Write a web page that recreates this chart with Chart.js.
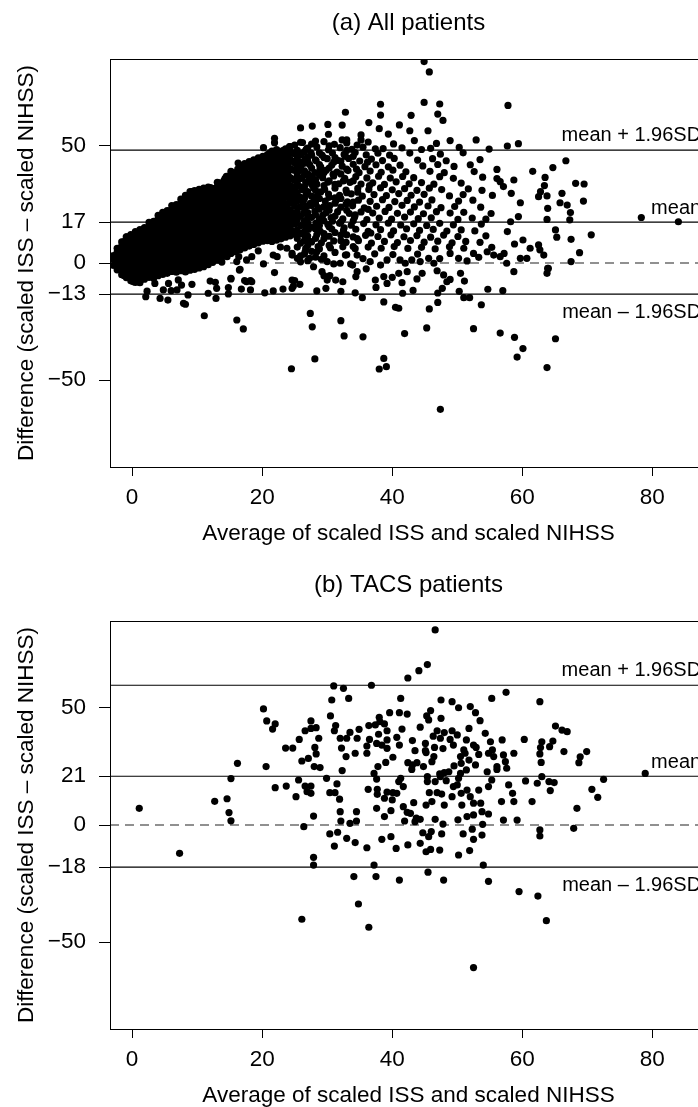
<!DOCTYPE html>
<html>
<head>
<meta charset="utf-8">
<script src="https://cdn.jsdelivr.net/npm/chart.js@4/dist/chart.umd.min.js"></script>
<style>
  html, body { margin: 0; padding: 0; background: #fff; }
  body { width: 698px; height: 1107px; overflow: hidden; position: relative; }
  canvas { position: absolute; left: 0; }
  #chartAll { top: 0; }
  #chartTacs { top: 562px; }
</style>
</head>
<body>
<canvas id="chartAll" width="760" height="560"></canvas>
<canvas id="chartTacs" width="760" height="560"></canvas>
<script>
// shared axes
const xTicks = [0, 20, 40, 60, 80];
const xRange = [-3.4, 88.4];
const yRange = [-87, 87];
const labelX = 87.5;

// (a) all patients
const meanAll = 17.4;
const limitsAll = [-13.3, 48.1];
const yTicksAll = [-50, -13.3, 0, 17.4, 50];
const yLabelsAll = ['\u221250', '\u221213', '0', '17', '50'];

// (b) TACS patients
const meanTacs = 20.8;
const limitsTacs = [-18.0, 59.6];
const yTicksTacs = [-50, -18.0, 0, 20.8, 50];
const yLabelsTacs = ['\u221250', '\u221218', '0', '21', '50'];

// (a) the solid cloud at low averages, read column by column: [average, [differences]]
const cloudAll = [
  [-2.9, [-1.0, 1.7, 3.2]],
  [-2.3, [-2.9, -0.3, 2.0, 4.6, 6.3]],
  [-1.95, [-1.3, 1.1, 3.5, 5.9]],
  [-1.6, [-5.0, -2.4, 0.1, 2.4, 4.9, 7.2, 9.0]],
  [-1.25, [-5.3, -2.9, -0.5, 1.9, 4.3, 6.7, 9.1]],
  [-0.9, [-6.2, -3.5, -1.1, 1.3, 3.6, 6.0, 8.5, 11.2]],
  [-0.55, [-5.25, -2.85, -0.45, 1.95, 4.35, 6.75, 9.15]],
  [-0.2, [-7.6, -4.7, -2.2, 0.2, 2.6, 5.0, 7.3, 9.8, 12.1]],
  [0.15, [-7.55, -5.15, -2.75, -0.35, 2.05, 4.45, 6.85, 9.25, 11.65]],
  [0.5, [-8.3, -5.8, -3.2, -0.9, 1.6, 4.0, 6.4, 8.8, 11.0, 13.4]],
  [0.85, [-7.65, -5.25, -2.85, -0.45, 1.95, 4.35, 6.75, 9.15, 11.55]],
  [1.2, [-7.7, -5.0, -2.5, 0.0, 2.3, 4.7, 7.0, 9.6, 11.9, 14.2]],
  [1.55, [-5.6, -3.2, -0.8, 1.6, 4.0, 6.4, 8.8, 11.2, 13.6]],
  [1.9, [-6.9, -4.2, -1.8, 0.8, 3.2, 5.6, 8.0, 10.3, 12.8, 15.1]],
  [2.25, [-5.0, -2.6, -0.2, 2.2, 4.6, 7.0, 9.4, 11.8, 14.2]],
  [2.6, [-6.1, -3.6, -1.2, 1.2, 3.7, 6.1, 8.5, 10.9, 13.3, 15.7, 17.3]],
  [2.95, [-4.95, -2.55, -0.15, 2.25, 4.65, 7.05, 9.45, 11.85, 14.25, 16.65]],
  [3.3, [-6.5, -4.0, -1.6, 0.9, 3.3, 5.7, 8.1, 10.5, 13.0, 15.4, 17.8]],
  [3.65, [-4.55, -2.15, 0.25, 2.65, 5.05, 7.45, 9.85, 12.25, 14.65, 17.05]],
  [4.0, [-5.4, -2.9, -0.4, 2.0, 4.4, 6.8, 9.2, 11.7, 14.1, 16.5, 18.8, 20.3]],
  [4.35, [-3.7, -1.3, 1.1, 3.5, 5.9, 8.3, 10.7, 13.1, 15.5, 17.9]],
  [4.7, [-4.9, -2.2, 0.2, 2.7, 5.1, 7.5, 9.9, 12.3, 14.7, 17.1, 19.5, 21.6]],
  [5.05, [-3.15, -0.75, 1.65, 4.05, 6.45, 8.85, 11.25, 13.65, 16.05, 18.45, 20.85]],
  [5.4, [-4.4, -1.8, 0.7, 3.1, 5.5, 7.9, 10.3, 12.8, 15.2, 17.6, 20.0, 22.4]],
  [5.75, [-2.6, -0.2, 2.2, 4.6, 7.0, 9.4, 11.8, 14.2, 16.6, 19.0, 21.4]],
  [6.1, [-3.6, -1.1, 1.3, 3.7, 6.2, 8.6, 11.0, 13.4, 15.8, 18.2, 20.6, 23.0, 24.5]],
  [6.45, [-2.5, -0.1, 2.3, 4.7, 7.1, 9.5, 11.9, 14.3, 16.7, 19.1, 21.5, 23.9]],
  [6.8, [-3.9, -1.5, 0.9, 3.3, 5.8, 8.2, 10.6, 13.0, 15.4, 17.8, 20.3, 22.7, 24.9]],
  [7.15, [-2.35, 0.05, 2.45, 4.85, 7.25, 9.65, 12.05, 14.45, 16.85, 19.25, 21.65, 24.05]],
  [7.5, [-3.3, -0.8, 1.6, 4.0, 6.4, 8.9, 11.3, 13.7, 16.1, 18.5, 20.9, 23.3, 25.7, 27.2]],
  [7.85, [-2.25, 0.15, 2.55, 4.95, 7.35, 9.75, 12.15, 14.55, 16.95, 19.35, 21.75, 24.15, 26.55]],
  [8.2, [-3.8, -1.4, 1.1, 3.5, 5.9, 8.3, 10.7, 13.1, 15.6, 18.0, 20.4, 22.8, 25.2, 27.6, 28.8]],
  [8.55, [-2.15, 0.25, 2.65, 5.05, 7.45, 9.85, 12.25, 14.65, 17.05, 19.45, 21.85, 24.25, 26.65]],
  [8.9, [-3.1, -0.6, 1.8, 4.2, 6.6, 9.0, 11.5, 13.9, 16.3, 18.7, 21.1, 23.5, 25.9, 28.3, 30.4]],
  [9.25, [-1.6, 0.8, 3.2, 5.6, 8.0, 10.4, 12.8, 15.2, 17.6, 20.0, 22.4, 24.8, 27.2, 29.6]],
  [9.6, [-2.7, -0.2, 2.2, 4.7, 7.1, 9.5, 11.9, 14.3, 16.7, 19.1, 21.6, 24.0, 26.4, 28.8, 30.9]],
  [9.95, [-1.1, 1.3, 3.7, 6.1, 8.5, 10.9, 13.3, 15.7, 18.1, 20.5, 22.9, 25.3, 27.7, 30.1]],
  [10.3, [-2.1, 0.4, 2.8, 5.2, 7.6, 10.0, 12.4, 14.9, 17.3, 19.7, 22.1, 24.5, 26.9, 29.3, 31.4]],
  [10.65, [-0.5, 1.9, 4.3, 6.7, 9.1, 11.5, 13.9, 16.3, 18.7, 21.1, 23.5, 25.9, 28.3, 30.7]],
  [11.0, [-1.6, 1.0, 3.4, 5.8, 8.2, 10.6, 13.0, 15.5, 17.9, 20.3, 22.7, 25.1, 27.5, 29.9, 31.9]],
  [11.35, [0.15, 2.55, 4.95, 7.35, 9.75, 12.15, 14.55, 16.95, 19.35, 21.75, 24.15, 26.55, 28.95, 31.35]],
  [11.7, [-0.7, 1.7, 4.1, 6.5, 8.9, 11.3, 13.8, 16.2, 18.6, 21.0, 23.4, 25.8, 28.2, 30.6, 32.4]],
  [12.05, [1.0, 3.4, 5.8, 8.2, 10.6, 13.0, 15.4, 17.8, 20.2, 22.6, 25.0, 27.4, 29.8, 32.2]],
  [12.4, [0.3, 2.7, 5.1, 7.5, 9.9, 12.4, 14.8, 17.2, 19.6, 22.0, 24.4, 26.8, 29.3, 31.7]],
  [12.75, [1.95, 4.35, 6.75, 9.15, 11.55, 13.95, 16.35, 18.75, 21.15, 23.55, 25.95, 28.35, 30.75, 31.8]],
  [13.1, [1.2, 3.6, 6.0, 8.5, 10.9, 13.3, 15.7, 18.1, 20.5, 22.9, 25.4, 27.8, 30.2, 32.6, 34.4]],
  [13.45, [3.0, 5.4, 7.8, 10.2, 12.6, 15.0, 17.4, 19.8, 22.2, 24.6, 27.0, 29.4, 31.8, 34.2]],
  [13.8, [2.4, 4.8, 7.2, 9.6, 12.0, 14.5, 16.9, 19.3, 21.7, 24.1, 26.5, 28.9, 31.4, 33.8]],
  [14.15, [4.05, 6.45, 8.85, 11.25, 13.65, 16.05, 18.45, 20.85, 23.25, 25.65, 28.05, 30.45, 32.85, 35.25]],
  [14.5, [3.3, 5.7, 8.1, 10.5, 13.0, 15.4, 17.8, 20.2, 22.6, 25.0, 27.4, 29.8, 32.3, 34.7, 37.0]],
  [14.85, [4.9, 7.3, 9.7, 12.1, 14.5, 16.9, 19.3, 21.7, 24.1, 26.5, 28.9, 31.3, 33.7, 36.1]],
  [15.2, [4.1, 6.5, 8.9, 11.3, 13.7, 16.2, 18.6, 21.0, 23.4, 25.8, 28.2, 30.6, 33.0, 35.5, 37.9, 39.1]],
  [15.55, [5.65, 8.05, 10.45, 12.85, 15.25, 17.65, 20.05, 22.45, 24.85, 27.25, 29.65, 32.05, 34.45, 36.85]],
  [15.9, [4.8, 7.2, 9.6, 12.0, 14.4, 16.8, 19.3, 21.7, 24.1, 26.5, 28.9, 31.3, 33.7, 36.1, 38.5]],
  [16.25, [6.45, 8.85, 11.25, 13.65, 16.05, 18.45, 20.85, 23.25, 25.65, 28.05, 30.45, 32.85, 35.25, 37.65, 40.05]],
  [16.6, [5.7, 8.1, 10.5, 12.9, 15.3, 17.8, 20.2, 22.6, 25.0, 27.4, 29.8, 32.2, 34.6, 37.1, 39.5, 41.5]],
  [16.95, [7.25, 9.65, 12.05, 14.45, 16.85, 19.25, 21.65, 24.05, 26.45, 28.85, 31.25, 33.65, 36.05, 38.45, 40.85]],
  [17.3, [6.4, 8.8, 11.2, 13.6, 16.0, 18.4, 20.8, 23.3, 25.7, 28.1, 30.5, 32.9, 35.3, 37.7, 40.1, 42.4]],
  [17.65, [8.0, 10.4, 12.8, 15.2, 17.6, 20.0, 22.4, 24.8, 27.2, 29.6, 32.0, 34.4, 36.8, 39.2, 41.6]],
  [18.0, [7.2, 9.6, 12.0, 14.4, 16.8, 19.2, 21.6, 24.0, 26.5, 28.9, 31.3, 33.7, 36.1, 38.5, 40.9, 43.2]],
  [18.35, [8.75, 11.15, 13.55, 15.95, 18.35, 20.75, 23.15, 25.55, 27.95, 30.35, 32.75, 35.15, 37.55, 39.95, 42.35]],
  [18.7, [7.9, 10.3, 12.7, 15.1, 17.5, 19.9, 22.3, 24.8, 27.2, 29.6, 32.0, 34.4, 36.8, 39.2, 41.6, 44.0]],
  [19.05, [9.45, 11.85, 14.25, 16.65, 19.05, 21.45, 23.85, 26.25, 28.65, 31.05, 33.45, 35.85, 38.25, 40.65, 43.05]],
  [19.4, [8.6, 11.0, 13.4, 15.8, 18.2, 20.6, 23.1, 25.5, 27.9, 30.3, 32.7, 35.1, 37.5, 39.9, 42.4, 44.8]],
  [19.75, [10.15, 12.55, 14.95, 17.35, 19.75, 22.15, 24.55, 26.95, 29.35, 31.75, 34.15, 36.55, 38.95, 41.35, 43.75]],
  [20.1, [9.3, 11.7, 14.1, 16.5, 18.9, 21.4, 23.8, 26.2, 28.6, 31.0, 33.4, 35.8, 38.2, 40.7, 43.1, 45.5]],
  [20.45, [10.85, 13.25, 15.65, 18.05, 20.45, 22.85, 25.25, 27.65, 30.05, 32.45, 34.85, 37.25, 39.65, 42.05, 44.45]],
  [20.8, [9.5, 12.4, 14.8, 17.2, 19.7, 22.1, 24.5, 26.9, 29.3, 31.7, 34.1, 36.5, 39.0, 41.4, 43.8, 46.2]],
  [21.15, [10.9, 13.3, 15.7, 18.1, 20.5, 22.9, 25.3, 27.7, 30.1, 32.5, 34.9, 37.3, 39.7, 42.1, 44.5, 46.9]],
  [21.5, [9.2, 11.8, 14.2, 16.6, 19.0, 21.4, 23.9, 26.3, 28.7, 31.1, 33.5, 35.9, 38.3, 40.7, 43.2, 45.6, 47.7]],
  [21.85, [11.0, 13.4, 15.8, 18.2, 20.6, 23.0, 25.4, 27.8, 30.2, 32.6, 35.0, 37.4, 39.8, 42.2, 44.6, 47.0]],
  [22.2, [9.7, 12.6, 15.0, 17.4, 19.8, 22.2, 24.7, 27.1, 29.5, 31.9, 34.3, 36.7, 39.1, 41.5, 44.0, 46.4, 48.4]],
  [22.55, [11.7, 14.1, 16.5, 18.9, 21.3, 23.7, 26.1, 28.5, 30.9, 33.3, 35.7, 38.1, 40.5, 42.9, 45.3, 47.7]],
  [22.9, [10.3, 13.2, 15.7, 18.1, 20.5, 22.9, 25.3, 27.7, 30.1, 32.6, 35.0, 37.4, 39.8, 42.2, 44.6, 47.0]],
  [23.25, [12.0, 14.4, 16.8, 19.2, 21.6, 24.0, 26.4, 28.8, 31.2, 33.6, 36.0, 38.4, 40.8, 43.2, 45.6, 48.0]],
  [23.6, [11.0, 14.4, 18.8, 21.2, 23.6, 28.0, 30.8, 33.2, 35.7, 38.8, 42.9, 45.4, 48.7]],
  [23.95, [12.6, 16.9, 20.2, 25.2, 29.0, 31.8, 34.5, 38.0, 41.4, 44.0, 46.5]],
  [24.3, [11.6, 15.2, 19.5, 22.7, 26.6, 30.0, 33.0, 36.4, 40.3, 44.2, 47.8, 49.6]],
  [24.65, [13.5, 17.8, 21.5, 25.5, 29.1, 32.4, 35.8, 39.8, 43.3, 47.0]],
  [25.0, [12.3, 16.6, 20.4, 24.3, 28.2, 31.6, 35.2, 39.5, 42.7, 46.5, 50.3]]
];

// (a) where the cloud thins out, averages 25 to 34: [average, [differences]]
const cloudEdgeAll = [
  [25.4, [2.0, 6.8, 10.5, 14.0, 18.5, 22.0, 26.5, 30.0, 34.0, 37.5, 41.0, 44.5, 48.0]],
  [25.9, [0.5, 8.5, 12.5, 16.0, 20.0, 24.0, 28.0, 32.5, 36.0, 39.5, 43.0, 46.8, 51.5]],
  [26.5, [3.8, 9.5, 13.5, 18.0, 23.0, 27.5, 32.5, 37.5, 42.5, 47.5]],
  [27.0, [1.0, 7.5, 11.5, 17.0, 21.5, 30.5, 38.0, 43.5, 49.0]],
  [27.6, [5.0, 9.0, 19.5, 24.5, 28.5, 33.5, 40.5, 46.0]],
  [28.2, [2.5, 10.5, 14.5, 20.5, 25.5, 31.0, 35.5, 44.0, 52.0]],
  [28.8, [6.0, 16.0, 23.0, 27.5, 37.5, 42.0, 47.0]],
  [29.5, [3.0, 12.5, 18.0, 24.0, 33.0, 38.5, 45.0]],
  [30.3, [7.5, 15.5, 22.5, 28.0, 35.0, 40.5, 50.0]],
  [31.2, [4.5, 13.0, 20.0, 25.5, 33.5, 45.0]],
  [32.1, [9.5, 17.5, 27.5, 38.0, 43.5]],
  [33.0, [3.5, 12.0, 22.5, 30.0, 40.0, 48.0]],
  [34.0, [7.0, 18.0, 26.0, 35.0, 45.5]]
];

// (a) the remaining points, [average, difference]
const scatterAll = [
  // edges of the cloud
  [3.0,16.9],[12.8,31.8],[14.3,36.1],[16.3,42.6],[16.9,41.5],[20.2,49.2],[21.9,51.3],[21.9,53.2],[9.2,30.4],[24.2,49.6],
  [6.7,23.7],[-0.8,11.2],
  // below the cloud
  [16.4,2.7],[18.4,2.7],[17.6,1.3],[16.1,0.6],[14.6,2.7],[12.0,4.1],[21.7,3.4],[22.3,2.7],[24.6,4.1],[23.8,6.3],
  [24.6,3.4],[20.2,-0.4],[19.4,5.2],[22.8,6.8],[13.8,0.4],[16.6,-2.7],[21.9,-4.1],[25.0,-7.5],[15.2,-6.5],
  [-1.1,-5.1],[0.2,-8.0],[1.2,-8.4],[3.5,-8.7],[5.6,-8.7],[7.1,-7.2],[7.6,-9.4],[9.2,-9.1],[12.0,-7.7],[12.8,-8.2],
  [13.0,-10.8],[15.2,-6.8],[16.5,-3.0],[17.3,-7.5],[17.6,-8.0],[18.2,-7.5],[18.4,-8.0],[24.6,-7.3],[24.8,-9.8],
  [2.1,-14.4],[4.3,-15.1],[5.5,-15.8],[2.3,-12.0],[4.8,-11.5],[6.0,-11.8],[6.9,-11.5],[8.6,-13.6],[7.9,-17.2],[11.7,-12.9],
  [12.9,-15.1],[14.8,-10.5],[14.8,-13.2],[16.8,-11.1],[18.2,-11.5],[20.4,-12.7],[21.7,-11.9],[23.2,-11.1],[24.6,-10.8],[25.8,-9.1],
  [11.1,-22.5],[16.1,-24.3],[17.1,-28.1],[24.5,-45.1],[8.2,-17.6],
  // middle and right, upper part
  [44.9,85.9],[45.7,81.5],[38.2,67.7],[44.9,68.5],[47.3,67.8],[57.8,67.2],[32.8,64.3],[38.2,63.1],[42.9,63.0],[47.0,63.5],
  [47.8,60.8],[36.4,59.9],[38.0,57.3],[39.4,55.0],[41.1,58.9],[42.7,56.4],[45.5,56.4],[25.9,57.6],[27.7,58.4],[30.1,59.1],
  [32.3,58.8],[30.2,54.9],[32.3,52.5],[33.0,52.5],[35.2,54.6],[35.2,52.5],[38.6,48.8],[43.4,52.2],[45.9,48.9],[48.9,52.2],
  [52.9,52.5],[54.9,48.6],[57.7,49.9],[59.4,50.9],[66.7,43.6],[64.7,40.7],[61.6,39.1],[56.1,39.9],[58.7,35.4],[56.6,34.7],
  [63.5,36.5],[63.4,33.0],[68.2,34.0],[69.5,33.7],[69.4,26.4],[62.8,30.4],[63.8,28.6],[62.5,28.3],[66.1,29.7],[65.8,25.7],
  [66.9,24.7],[63.9,23.3],[67.4,21.5],[67.3,18.4],[63.8,18.6],[65.1,14.1],[65.3,11.0],[67.5,10.1],[70.6,12.0],[68.8,4.4],
  [67.5,0.6],[63.9,-2.3],[63.8,-4.4],[62.5,7.7],[62.7,5.6],[61.2,6.3],[60.1,9.8],[59.7,2.0],[58.8,8.1],[57.7,13.4],
  [58.2,17.6],[59.4,19.8],[59.7,25.7],[58.3,29.7],[57.1,32.6],[56.1,36.0],[78.3,19.4],[84.0,17.6],[57.2,4.1],[58.7,-3.7],
  [26.2,51.4],[27.6,50.7],[29.5,51.8],[31.1,50.6],[33.0,51.2],[34.6,50.3],[36.3,51.6],[40.2,50.8],[46.8,51.0],
  [26.8,48.6],[28.4,49.5],[30.2,48.3],[32.0,49.2],[33.8,48.5],[35.5,49.4],[37.4,48.7],[41.5,49.1],[44.5,48.4],[50.3,49.3],
  [26.0,46.2],[27.5,47.0],[29.2,46.0],[30.8,46.9],[32.6,46.3],[34.3,47.1],[36.0,46.1],[37.8,46.8],[39.6,46.0],[42.7,46.9],[47.4,46.4],[50.9,47.0],
  [26.6,44.4],[28.3,43.6],[30.0,44.5],[31.6,43.8],[33.3,44.6],[35.0,43.5],[36.8,44.3],[38.5,43.7],[40.3,44.6],[43.9,43.9],[46.2,44.5],[48.3,43.6],[53.5,44.1],
  [25.9,41.2],[27.3,42.0],[29.0,41.0],[30.7,41.8],[32.3,41.3],[34.0,42.1],[35.8,41.1],[37.5,41.9],[39.4,41.0],[41.2,41.7],[44.7,41.4],[47.0,42.0],[49.5,41.2],[52.0,41.9],
  [26.5,39.3],[28.1,38.6],[29.8,39.5],[31.5,38.8],[33.2,39.4],[34.9,38.5],[36.6,39.2],[38.3,38.7],[40.1,39.6],[42.1,38.9],[45.8,39.1],[48.0,38.5],[52.6,39.0],
  [26.1,36.2],[27.7,37.0],[29.3,36.4],[31.0,37.1],[32.7,36.1],[34.4,36.8],[36.1,36.3],[37.9,37.0],[39.7,36.2],[41.6,36.9],[43.3,36.4],[47.3,36.8],[49.4,36.1],[53.9,36.6],
  [26.7,34.3],[28.4,33.6],[30.1,34.5],[31.8,33.8],[33.5,34.4],[35.2,33.7],[37.0,34.2],[38.8,33.5],[40.6,34.6],[42.6,33.8],[44.5,34.3],[46.4,33.6],[50.6,34.1],
  [26.2,31.2],[27.9,32.0],[29.6,31.4],[31.2,31.9],[32.9,31.1],[34.7,31.8],[36.4,31.3],[38.2,32.0],[40.0,31.2],[41.9,31.7],[43.8,31.0],[45.7,31.9],[47.6,31.3],[51.7,31.6],[53.8,31.0],
  [26.8,29.3],[28.5,28.6],[30.2,29.4],[31.9,28.8],[33.7,29.5],[35.4,28.5],[37.2,29.2],[39.1,28.7],[41.0,29.6],[42.9,28.9],[44.9,29.3],[48.8,28.6],[50.9,29.2],[55.4,28.8],
  [26.3,26.2],[28.0,27.0],[29.7,26.4],[31.4,26.9],[33.1,26.1],[34.8,26.8],[36.6,26.3],[38.5,27.0],[40.4,26.2],[42.3,26.7],[44.2,26.0],[46.1,26.9],[50.2,26.4],[52.4,26.8],
  [26.9,24.3],[28.6,23.6],[30.4,24.5],[32.1,23.8],[33.9,24.4],[35.7,23.5],[37.6,24.2],[39.5,23.7],[41.5,24.6],[43.4,23.9],[45.5,24.3],[47.5,23.6],[49.6,24.1],[53.6,23.8],
  [26.4,21.2],[28.1,22.0],[29.8,21.4],[31.6,21.9],[33.4,21.1],[35.2,21.8],[37.0,21.3],[38.9,22.0],[40.8,21.2],[42.8,21.7],[44.8,21.0],[46.8,21.9],[48.9,21.3],[51.0,21.6],[55.2,21.1],
  [27.0,19.3],[28.8,18.6],[30.6,19.4],[32.4,18.8],[34.2,19.5],[36.1,18.5],[38.0,19.2],[39.9,18.7],[41.9,19.6],[44.0,18.9],[46.0,19.3],[50.1,18.6],[52.3,19.2],[54.4,18.7],
  [26.5,16.2],[28.3,17.0],[30.1,16.4],[31.9,16.9],[33.7,16.1],[35.6,16.8],[37.5,16.3],[39.4,17.0],[41.3,16.2],[43.3,16.7],[45.3,16.0],[47.3,16.9],[49.4,16.3],[53.7,16.6],
  [27.1,14.3],[28.9,13.6],[30.7,14.5],[32.5,13.8],[34.4,14.4],[36.3,13.5],[38.2,14.2],[40.2,13.7],[42.2,14.6],[44.2,13.9],[46.3,14.3],[48.4,13.6],[50.6,14.1],[52.7,13.7],
  [26.6,11.2],[28.4,12.0],[30.3,11.4],[32.1,11.9],[34.0,11.1],[35.9,11.8],[37.8,11.3],[39.8,12.0],[41.8,11.2],[43.8,11.7],[45.9,11.0],[47.9,11.9],[50.1,11.3],[54.4,11.6],
  [27.2,9.3],[29.1,8.6],[31.0,9.4],[32.9,8.8],[34.8,9.5],[36.8,8.5],[38.8,9.2],[40.8,8.7],[42.8,9.6],[44.9,8.9],[47.0,9.3],[49.2,8.6],[51.3,9.2],[53.5,8.8],
  [26.7,6.2],[28.6,7.0],[30.5,6.4],[32.4,6.9],[34.3,6.1],[36.3,6.8],[38.3,6.3],[40.3,7.0],[42.4,6.2],[44.5,6.7],[46.6,6.0],[48.8,6.9],[51.0,6.3],[55.3,6.7],
  [27.0,45.3],[28.9,40.2],[27.2,35.4],[29.0,30.3],[27.4,25.4],[29.3,20.3],[27.6,15.3],[29.5,10.3],[31.0,43.0],[30.9,37.9],
  [31.2,27.8],[30.8,17.8],[32.8,45.5],[32.5,35.0],[32.9,25.1],[32.6,15.0],[34.5,40.0],[34.7,30.2],[34.3,20.5],[34.6,10.4],
  [36.2,43.0],[36.5,33.0],[36.3,22.9],[36.7,12.8],
  // middle and right, around zero
  [26.6,4.8],[28.4,4.8],[30.0,0.6],[31.0,-0.4],[32.0,-0.1],[32.8,3.4],[33.6,-0.4],[34.6,3.4],[36.6,0.6],[38.2,-0.9],
  [39.2,1.3],[41.2,1.3],[42.0,-0.1],[43.0,1.3],[44.3,0.6],[45.6,2.0],[46.4,-0.1],[48.9,4.1],[50.2,2.0],[52.5,4.1],
  [54.6,4.8],[55.6,3.4],[56.6,2.7],[57.6,-0.1],[60.7,2.0],[63.3,3.4],[25.9,3.0],[27.3,2.0],[29.1,1.6],[35.5,1.9],
  [37.3,3.9],[40.1,3.6],[27.9,-1.6],[36.0,-2.5],[43.9,3.8],[47.3,1.9],[51.5,0.9],[53.3,2.4],
  [29.2,-3.7],[29.5,-5.4],[30.4,-5.4],[30.0,-7.3],[31.3,-7.3],[32.4,-8.0],[34.4,-5.8],[34.6,-3.7],[33.9,-0.9],[37.4,-7.3],
  [38.7,-5.8],[39.2,-8.7],[40.0,-6.1],[41.0,-4.4],[41.5,-8.4],[42.3,-3.7],[43.8,-6.8],[44.6,-4.4],[46.9,-3.3],[47.9,-5.1],
  [48.4,-8.0],[48.9,-7.0],[50.5,-4.4],[51.1,-7.7],[64.0,-2.3],
  // middle and right, lower part
  [28.4,-11.9],[29.8,-10.8],[32.1,-12.1],[34.3,-12.7],[35.4,-14.8],[37.5,-10.4],[41.6,-12.9],[43.2,-11.7],[47.0,-12.8],[47.7,-10.8],
  [50.3,-12.1],[51.0,-14.8],[51.9,-14.8],[54.7,-11.2],[57.0,-11.8],[27.4,-21.5],[27.7,-27.2],[28.1,-40.9],[32.1,-24.6],[32.6,-31.1],
  [35.5,-31.5],[38.7,-40.7],[38.0,-45.2],[39.1,-44.2],[41.9,-30.1],[45.3,-27.7],[47.4,-62.4],[52.5,-28.0],[56.6,-29.9],[58.8,-31.7],
  [60.1,-36.5],[59.2,-40.1],[63.8,-44.6],[45.7,-19.6],[38.7,-16.6],[40.5,-18.9],[41.0,-19.3],[53.7,-17.8],[47.0,-16.8],[65.1,-32.3]
];

// (b) [average, difference]
const pointsTacs = [
  // low averages
  [1.1,7.1],[7.3,-12.1],[12.7,10.1],[14.6,11.2],[14.9,5.3],[15.2,1.8],[15.2,19.8],[16.2,26.3],
  // centre of the cloud
  [46.6,83.2],[45.4,68.4],[44.1,65.8],[42.4,62.7],[31.0,59.3],[32.5,58.3],[36.8,59.6],[30.7,53.3],[33.3,54.0],[41.3,54.0],
  [47.5,53.3],[49.2,52.6],[50.2,50.0],[52.0,50.5],[52.8,47.9],[55.3,54.0],[20.2,49.5],[45.9,48.8],[39.6,47.9],[41.1,47.9],
  [42.3,47.3],[30.5,46.5],[45.3,46.5],[45.6,44.8],[47.5,45.5],[53.5,44.5],[20.7,44.4],[22.0,43.1],[21.6,40.9],[27.5,44.4],
  [31.3,42.4],[31.1,40.2],[26.6,40.2],[27.5,41.2],[28.3,41.5],[38.0,45.9],[38.1,44.1],[37.4,42.7],[36.4,42.4],[38.8,43.1],
  [39.2,40.2],[41.5,40.9],[44.3,41.7],[46.9,40.2],[48.0,39.4],[49.2,40.2],[50.0,38.4],[51.8,41.2],[54.3,39.1],[34.9,40.8],
  [33.5,39.5],[32.0,37.0],[33.0,37.0],[34.6,37.0],[36.5,36.5],[37.9,38.7],[37.6,34.8],[38.4,34.1],[39.2,36.3],[40.7,37.4],
  [41.1,34.1],[43.1,36.0],[45.1,34.8],[46.3,37.9],[47.4,37.0],[48.9,36.5],[49.4,34.1],[51.4,36.3],[52.5,34.1],[55.1,35.5],
  [28.7,37.0],[25.7,36.5],[23.6,32.8],[24.7,32.8],[28.1,33.1],[32.2,32.8],[36.1,33.7],[39.2,32.7],[43.5,31.7],[45.1,31.7],
  [46.5,33.1],[47.8,32.6],[51.0,32.0],[52.9,33.1],[55.4,32.0],[28.3,30.3],[34.3,30.6],[36.1,30.6],[32.9,29.2],[40.1,28.9],
  [45.2,30.9],[46.4,29.2],[46.1,27.0],[50.5,29.2],[51.2,30.6],[51.8,27.7],[53.3,30.1],[54.8,30.6],[55.6,29.2],[26.1,27.3],
  [27.1,28.4],[20.6,24.9],[28.0,24.9],[28.9,24.5],[32.3,23.2],[37.8,24.9],[39.0,26.7],[42.4,26.6],[43.1,25.6],[43.8,26.6],
  [44.8,24.9],[43.0,23.7],[47.3,21.8],[48.0,22.3],[49.5,25.2],[50.6,26.3],[51.4,23.5],[52.8,25.6],[54.6,22.7],[56.1,24.9],
  [29.9,19.9],[25.6,19.2],[22.0,15.9],[23.7,16.6],[25.2,12.1],[26.6,16.6],[27.5,16.6],[26.9,14.2],[27.5,13.5],[30.4,13.8],
  [31.5,17.5],[31.2,13.8],[31.9,11.0],[27.9,3.8],[26.4,-0.7],[32.0,5.7],[34.5,5.7],[32.1,1.7],[33.5,0.7],[34.5,1.7],
  [37.2,22.0],[37.6,19.6],[36.3,15.2],[37.7,15.2],[37.7,13.1],[38.8,11.4],[39.2,14.0],[40.1,13.8],[40.7,13.5],[40.0,10.7],
  [41.7,16.4],[41.3,19.9],[41.0,18.5],[37.6,7.1],[38.8,3.6],[39.8,6.1],[41.7,7.8],[43.3,9.5],[45.2,8.5],[46.1,10.0],
  [45.7,13.8],[46.9,13.8],[47.6,13.2],[48.0,8.5],[49.2,12.1],[50.0,17.1],[50.2,19.9],[49.4,16.4],[50.6,13.5],[51.5,14.9],
  [52.0,12.1],[52.5,9.3],[50.7,8.5],[53.6,9.3],[53.8,5.7],[54.8,4.7],[53.3,14.9],[54.8,16.4],[55.3,19.2],[56.1,23.7],
  [45.4,20.6],[45.4,18.5],[46.6,18.5],[47.4,20.6],[48.3,18.9],[48.7,22.7],[50.5,22.0],[42.3,5.4],[42.8,5.0],[43.7,2.9],
  [44.3,2.4],[41.9,1.7],[43.5,1.4],[46.6,2.4],[47.8,0.4],[50.1,2.2],[51.5,3.6],[52.5,4.3],[53.9,0.3],[30.4,-3.8],
  [31.6,-3.1],[31.1,-9.0],[33.0,-5.7],[34.3,-7.5],[36.1,-9.7],[38.4,-6.1],[39.8,-5.0],[40.6,-10.0],[42.4,-8.5],[44.3,-7.8],
  [44.7,-3.3],[46.0,-2.8],[45.6,-5.0],[47.6,-3.8],[45.2,-11.4],[45.9,-10.4],[47.3,-10.7],[50.2,-12.8],[51.9,-10.9],[50.9,-3.8],
  [52.3,-1.8],[52.5,-6.1],[53.8,-4.3],[54.0,-17.1],[37.2,-17.1],[27.9,-13.8],[27.9,-17.1],
  // high averages
  [57.5,56.6],[62.7,52.6],[56.9,36.3],[60.3,36.5],[63.0,35.5],[64.2,33.4],[64.7,35.8],[65.1,42.2],[66.1,40.5],[66.9,39.8],
  [62.8,33.0],[62.7,30.3],[62.9,26.7],[66.4,31.3],[68.9,29.1],[69.9,31.3],[68.7,26.6],[57.1,29.9],[58.7,30.6],[57.4,27.0],
  [57.6,24.2],[57.9,17.1],[56.8,10.0],[58.5,13.5],[58.7,10.0],[60.5,18.8],[62.3,17.8],[63.0,20.6],[64.1,18.5],[64.9,18.1],
  [64.3,14.7],[61.5,10.0],[72.5,19.5],[70.7,15.2],[71.6,11.8],[68.4,7.1],[67.9,-1.4],[62.7,-2.1],[62.7,-4.7],[78.9,22.0],
  [57.1,2.1],[59.2,2.1],
  // far below
  [26.1,-40.2],[34.1,-22.0],[37.5,-22.0],[34.8,-33.7],[36.4,-43.6],[41.1,-23.5],[45.5,-20.1],[47.9,-23.5],[54.8,-24.0],[59.5,-28.4],
  [62.4,-30.3],[63.7,-40.8],[52.5,-60.8]
];

const FONT = '"Liberation Sans", Arial, Helvetica, sans-serif';
Chart.defaults.font.family = FONT;
Chart.defaults.color = '#000';

const columnsToPoints = cols => cols.flatMap(([x, ys]) => ys.map(y => [x, y]));
const pointsAll = columnsToPoints(cloudAll).concat(columnsToPoints(cloudEdgeAll), scatterAll);

function hline(y, dashed) {
  return {
    type: 'line',
    data: [{ x: xRange[0], y: y }, { x: xRange[1], y: y }],
    borderColor: dashed ? '#222' : '#000',
    borderWidth: dashed ? 1.1 : 1.2,
    borderDash: dashed ? [9, 6] : [],
    pointRadius: 0,
    showLine: true,
    fill: false
  };
}

// frame, panel title and the mean / limit labels
const panelPlugin = {
  id: 'panel',
  afterDraw(chart, args, opts) {
    const { ctx, chartArea: a, scales: { x, y } } = chart;
    ctx.save();
    ctx.strokeStyle = '#000';
    ctx.lineWidth = 1;
    ctx.strokeRect(a.left + 0.5, a.top + 0.5, a.right - a.left, a.bottom - a.top);
    ctx.fillStyle = '#000';
    ctx.textBaseline = 'middle';
    ctx.font = '24px ' + FONT;
    ctx.textAlign = 'center';
    ctx.fillText(opts.title, (a.left + a.right) / 2, 23);
    ctx.font = '20px ' + FONT;
    ctx.textAlign = 'right';
    const lx = x.getPixelForValue(labelX);
    ctx.fillText('mean + 1.96SD', lx, y.getPixelForValue(opts.limits[1]) - 15);
    ctx.fillText('mean', lx, y.getPixelForValue(opts.mean) - 14);
    ctx.fillText('mean \u2013 1.96SD', lx, y.getPixelForValue(opts.limits[0]) + 18);
    ctx.restore();
  }
};

function makeChart(id, title, points, mean, limits, yTicks, yLabels) {
  return new Chart(document.getElementById(id), {
    type: 'scatter',
    data: {
      datasets: [
        {
          data: points.map(p => ({ x: p[0], y: p[1] })),
          backgroundColor: '#000',
          borderWidth: 0,
          pointStyle: 'circle',
          pointRadius: 3.6,
          pointHoverRadius: 3.6
        },
        hline(0, true),
        hline(mean),
        hline(limits[0]),
        hline(limits[1])
      ]
    },
    options: {
      responsive: false,
      animation: false,
      events: [],
      layout: { padding: { top: 59, right: 53, left: 0, bottom: 0 } },
      plugins: {
        legend: { display: false },
        tooltip: { enabled: false },
        panel: { title: title, mean: mean, limits: limits }
      },
      scales: {
        x: {
          type: 'linear',
          min: xRange[0],
          max: xRange[1],
          afterBuildTicks: s => { s.ticks = xTicks.map(v => ({ value: v })); },
          afterFit: s => { s.height = 93; },
          grid: { drawOnChartArea: false, drawTicks: true, tickLength: 9, color: '#000' },
          border: { display: true, color: '#000' },
          ticks: { font: { size: 22.5 }, padding: 8, maxRotation: 0, autoSkip: false, color: '#000' },
          title: {
            display: true,
            text: 'Average of scaled ISS and scaled NIHSS',
            font: { size: 22.5 },
            color: '#000',
            padding: { top: 0, bottom: 12.5 }
          }
        },
        y: {
          type: 'linear',
          min: yRange[0],
          max: yRange[1],
          afterBuildTicks: s => { s.ticks = yTicks.map(v => ({ value: v })); },
          afterFit: s => { s.width = 110; },
          grid: { drawOnChartArea: false, drawTicks: true, tickLength: 11, color: '#000' },
          border: { display: true, color: '#000' },
          ticks: {
            font: { size: 22.5 },
            padding: 13,
            autoSkip: false,
            color: '#000',
            callback: (v, i) => yLabels[i]
          },
          title: {
            display: true,
            text: 'Difference (scaled ISS \u2013 scaled NIHSS)',
            font: { size: 22.5 },
            color: '#000',
            padding: { top: 13.5, bottom: 0 }
          }
        }
      }
    },
    plugins: [panelPlugin]
  });
}

makeChart('chartAll', '(a) All patients', pointsAll, meanAll, limitsAll, yTicksAll, yLabelsAll);
makeChart('chartTacs', '(b) TACS patients', pointsTacs, meanTacs, limitsTacs, yTicksTacs, yLabelsTacs);
</script>
</body>
</html>
